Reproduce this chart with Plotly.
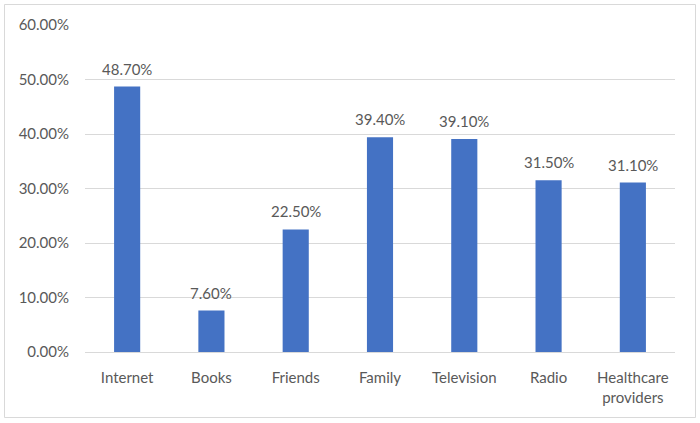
import plotly.graph_objects as go

categories = ["Internet", "Books", "Friends", "Family", "Television", "Radio", "Healthcare<br>providers"]
values = [0.487, 0.076, 0.225, 0.394, 0.391, 0.315, 0.311]
y_ticks = [0, 0.1, 0.2, 0.3, 0.4, 0.5, 0.6]

W, H = 700, 423
ml, mr, mt, mb = 85, 25, 25, 71
pw, ph = W - ml - mr, H - mt - mb

font = dict(family="Lato, 'Open Sans', sans-serif", size=15, color="#595959")

fig = go.Figure(go.Bar(
    x=categories, y=values,
    marker=dict(color="#4472C4", line=dict(width=0)),
    width=0.31,
    hoverinfo="x+y",
))

for c, v in zip(categories, values):
    fig.add_annotation(x=c, y=v, text=f"{v:.2%}", showarrow=False,
                       yanchor="bottom", yshift=7, font=font)

fig.update_layout(
    width=W, height=H,
    margin=dict(l=ml, r=mr, t=mt, b=mb, autoexpand=False),
    paper_bgcolor="white", plot_bgcolor="white",
    font=font, showlegend=False,
    xaxis=dict(showgrid=False, showline=True, linecolor="#D9D9D9", linewidth=1,
               ticks="", tickfont=font, ticklabelstandoff=12, automargin=False),
    yaxis=dict(range=[0, 0.6], tickvals=y_ticks, tickformat=".2%",
               showgrid=True, gridcolor="#D9D9D9", gridwidth=1,
               zeroline=False, showline=False, ticks="", tickfont=font,
               ticklabelstandoff=15, automargin=False),
    shapes=[dict(type="rect", xref="paper", yref="paper",
                 x0=(4.5 - ml) / pw, x1=(695.5 - ml) / pw,
                 y0=(mt + ph - 417.5) / ph, y1=(mt + ph - 4.5) / ph,
                 line=dict(color="#D9D9D9", width=1), layer="below")],
)

fig.write_html("out.html", config={"displayModeBar": False},
               post_script="document.body.style.margin='0';document.body.style.overflow='hidden';")
